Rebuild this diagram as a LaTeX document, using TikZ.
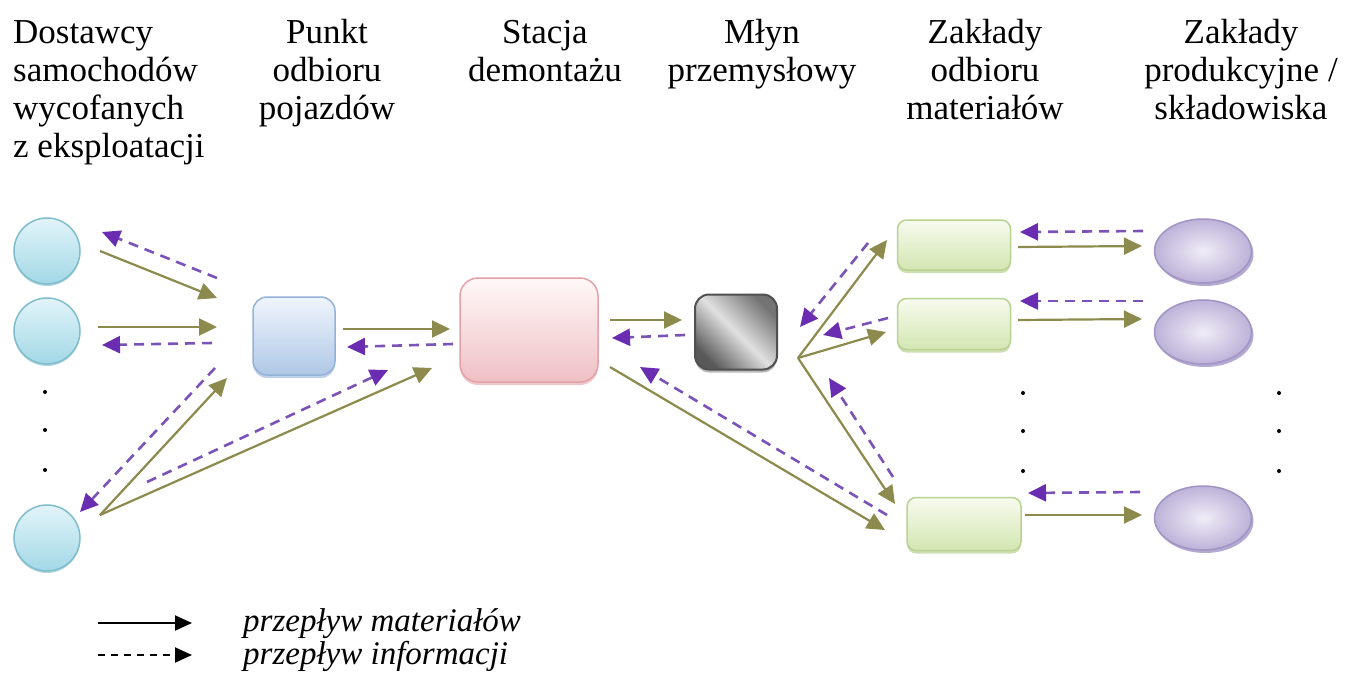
\documentclass[tikz,border=0pt]{standalone}
\usepackage{fontspec}
\setmainfont{Liberation Serif}
\usetikzlibrary{arrows.meta,shapes.geometric,shadows}

% connector colours
\definecolor{matc}{HTML}{8C8A4C}
\definecolor{infc}{HTML}{7A52B8}
\definecolor{infh}{HTML}{6A2CB0}
% node fills (light, dark) and borders
\definecolor{cirA}{HTML}{E2F4F9}
\definecolor{cirB}{HTML}{A3D8E6}
\definecolor{cirD}{HTML}{7FBDCC}
\definecolor{bluA}{HTML}{F0F5FC}
\definecolor{bluB}{HTML}{AFC8E6}
\definecolor{bluD}{HTML}{93B2D8}
\definecolor{pnkA}{HTML}{FFF8F8}
\definecolor{pnkB}{HTML}{EFC0C4}
\definecolor{pnkD}{HTML}{E3A2A8}
\definecolor{gryD}{HTML}{505050}
\definecolor{grnA}{HTML}{F7FBEE}
\definecolor{grnB}{HTML}{D3E6B2}
\definecolor{grnD}{HTML}{B8D292}
\definecolor{lavA}{HTML}{F0EDF7}
\definecolor{lavB}{HTML}{BDB2D8}
\definecolor{lavD}{HTML}{A194C4}

\begin{document}
\begin{tikzpicture}[x=1pt,y=-1pt,
  hdr/.style={font=\fontsize{35}{38}\selectfont, inner sep=0pt, anchor=north, align=center},
  leg/.style={font=\fontsize{33}{36}\selectfont\itshape, inner sep=0pt, anchor=base west},
  supplier/.style={circle, minimum size=66pt, inner sep=0pt, draw=cirD, line width=1.5pt,
    top color=cirA, bottom color=cirB,
    drop shadow={shadow xshift=0pt, shadow yshift=-2pt, fill=cirD, opacity=0.6}},
  rbox/.style={rectangle, rounded corners=14pt, inner sep=0pt, line width=1.5pt},
  bluebox/.style={rbox, draw=bluD, top color=bluA, bottom color=bluB,
    drop shadow={shadow xshift=0pt, shadow yshift=-3pt, fill=bluD, opacity=0.6}},
  pinkbox/.style={rbox, rounded corners=18pt, draw=pnkD, top color=pnkA, bottom color=pnkB,
    drop shadow={shadow xshift=0pt, shadow yshift=-3pt, fill=pnkD, opacity=0.6}},
  graybox/.style={rbox, draw=gryD, line width=2pt, left color=black!65, right color=black!55,
    middle color=black!12, shading angle=135,
    drop shadow={shadow xshift=0pt, shadow yshift=-3pt, fill=black!45, opacity=0.6}},
  greenbox/.style={rbox, rounded corners=9pt, draw=grnD, top color=grnA, bottom color=grnB,
    drop shadow={shadow xshift=0pt, shadow yshift=-3pt, fill=grnD, opacity=0.7}},
  plant/.style={ellipse, minimum width=97pt, minimum height=64pt, inner sep=0pt,
    draw=lavD, line width=1.5pt, inner color=lavA, outer color=lavB,
    drop shadow={shadow xshift=2pt, shadow yshift=-3pt, fill=lavD, opacity=0.8}},
  mat/.style={matc, line width=2.2pt, -{Triangle[length=18pt,width=17pt]}},
  inf/.style={infc, line width=2.6pt, dash pattern=on 10pt off 7pt,
    -{Triangle[length=18pt,width=17pt,color=infh]}},
  legm/.style={black, line width=2pt, -{Triangle[length=17pt,width=15pt]}},
  legi/.style={black, line width=2pt, dash pattern=on 7pt off 6pt,
    -{Triangle[length=17pt,width=15pt]}},
  ellip/.style={circle, fill=black, inner sep=0pt, minimum size=4pt}]

\useasboundingbox (0,0) rectangle (1352,675);

% column headings
\node[hdr, anchor=north west, align=left] (h1) at (13,16.4)
  {\strut Dostawcy\\samochodów\\wycofanych\\z eksploatacji};
\node[hdr] (h2) at (327,16.4) {\strut Punkt\\odbioru\\pojazdów};
\node[hdr] (h3) at (545,16.4) {\strut Stacja\\demontażu};
\node[hdr] (h4) at (762,16.4) {\strut Młyn\\przemysłowy};
\node[hdr] (h5) at (985,16.4) {\strut Zakłady\\odbioru\\materiałów};
\node[hdr] (h6) at (1241,16.4) {\strut Zakłady\\produkcyjne /\\składowiska};

% chain members
\node[supplier] (s1) at (47,251) {};
\node[supplier] (s2) at (47,331) {};
\node[supplier] (s3) at (47,538) {};
\node[bluebox, minimum width=82pt, minimum height=78pt] (pk) at (294,336) {};
\node[pinkbox, minimum width=138pt, minimum height=104pt] (st) at (529,330) {};
\node[graybox, minimum width=82pt, minimum height=75pt] (ml) at (736,332) {};
\node[greenbox, minimum width=113pt, minimum height=50pt] (g1) at (954,245) {};
\node[greenbox, minimum width=113pt, minimum height=51pt] (g2) at (954,324) {};
\node[greenbox, minimum width=114pt, minimum height=53pt] (g3) at (964,524) {};
\node[plant] (p1) at (1203,251) {};
\node[plant] (p2) at (1203,332) {};
\node[plant] (p3) at (1203,518) {};

% vertical ellipses between repeated members
\node[ellip] (d1) at (45,392) {};
\node[ellip] (d2) at (45,430) {};
\node[ellip] (d3) at (45,470) {};
\node[ellip] (d4) at (1023,393) {};
\node[ellip] (d5) at (1023,431) {};
\node[ellip] (d6) at (1023,471) {};
\node[ellip] (d7) at (1279,393) {};
\node[ellip] (d8) at (1279,431) {};
\node[ellip] (d9) at (1279,471) {};

% connector end points
\coordinate (a1) at (100,251);  \coordinate (b1) at (217,298);
\coordinate (a2) at (217,278);  \coordinate (b2) at (102,232);
\coordinate (a3) at (98,327);   \coordinate (b3) at (217,327);
\coordinate (a4) at (212,343);  \coordinate (b4) at (102,345);
\coordinate (a5) at (100,515);  \coordinate (b5) at (227,378);
\coordinate (a6) at (215,368);  \coordinate (b6) at (80,512);
\coordinate (b7) at (432,368);
\coordinate (a8) at (147,482);  \coordinate (b8) at (388,370);
\coordinate (a9) at (343,329);  \coordinate (b9) at (450,329);
\coordinate (a10) at (453,344); \coordinate (b10) at (347,347);
\coordinate (a11) at (610,320); \coordinate (b11) at (682,320);
\coordinate (a12) at (685,335); \coordinate (b12) at (612,338);
\coordinate (a13) at (610,367); \coordinate (b13) at (885,530);
\coordinate (a14) at (887,515); \coordinate (b14) at (640,367);
\coordinate (fan) at (798,358);
\coordinate (b15) at (887,240);
\coordinate (a16) at (868,243); \coordinate (b16) at (800,327);
\coordinate (b17) at (886,332);
\coordinate (a18) at (888,318); \coordinate (b18) at (823,335);
\coordinate (b19) at (895,504);
\coordinate (a20) at (893,477); \coordinate (b20) at (829,378);
\coordinate (a21) at (1143,231); \coordinate (b21) at (1020,232);
\coordinate (a22) at (1018,247); \coordinate (b22) at (1142,246);
\coordinate (a23) at (1143,301); \coordinate (b23) at (1020,301);
\coordinate (a24) at (1018,320); \coordinate (b24) at (1142,319);
\coordinate (a25) at (1140,492); \coordinate (b25) at (1028,493);
\coordinate (a26) at (1025,515); \coordinate (b26) at (1142,515);

% suppliers -> collection point / dismantling station
\draw[mat] (a1) -- (b1);
\draw[inf] (a2) -- (b2);
\draw[mat] (a3) -- (b3);
\draw[inf] (a4) -- (b4);
\draw[mat] (a5) -- (b5);
\draw[inf] (a6) -- (b6);
\draw[mat] (a5) -- (b7);
\draw[inf] (a8) -- (b8);
% collection point -> dismantling station
\draw[mat] (a9) -- (b9);
\draw[inf] (a10) -- (b10);
% dismantling station -> shredder / receivers
\draw[mat] (a11) -- (b11);
\draw[inf] (a12) -- (b12);
\draw[mat] (a13) -- (b13);
\draw[inf] (a14) -- (b14);
% shredder -> material receivers
\draw[mat] (fan) -- (b15);
\draw[inf] (a16) -- (b16);
\draw[mat] (fan) -- (b17);
\draw[inf] (a18) -- (b18);
\draw[mat] (fan) -- (b19);
\draw[inf] (a20) -- (b20);
% material receivers -> plants / landfills
\draw[inf] (a21) -- (b21);
\draw[mat] (a22) -- (b22);
\draw[inf] (a23) -- (b23);
\draw[mat] (a24) -- (b24);
\draw[inf] (a25) -- (b25);
\draw[mat] (a26) -- (b26);

% legend
\coordinate (l1a) at (98,623);  \coordinate (l1b) at (192,623);
\coordinate (l2a) at (98,655);  \coordinate (l2b) at (192,655);
\draw[legm] (l1a) -- (l1b);
\draw[legi] (l2a) -- (l2b);
\node[leg] (t1) at (243,631) {przepływ materiałów};
\node[leg] (t2) at (243,664) {przepływ informacji};
\end{tikzpicture}
\end{document}
